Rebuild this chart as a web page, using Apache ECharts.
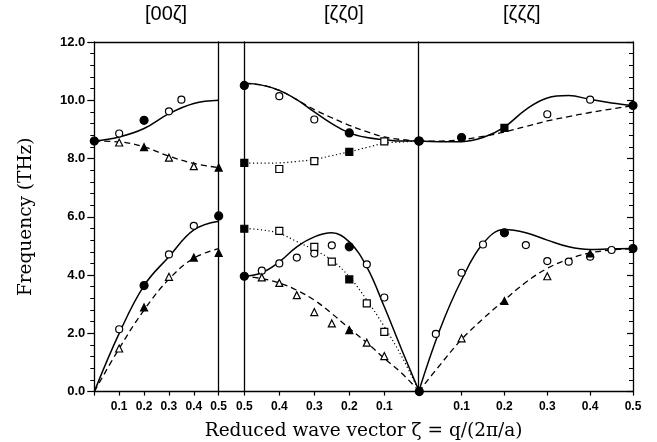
<!DOCTYPE html>
<html>
<head>
<meta charset="utf-8">
<script src="https://cdn.jsdelivr.net/npm/echarts@6/dist/echarts.min.js"></script>
<style>
  html, body { margin: 0; padding: 0; background: #fff; }
  #main { width: 657px; height: 442px; }
</style>
</head>
<body>
<div id="main"></div>
<script>
// reduced wave vector samples
const zetaA = [0, 0.1, 0.2, 0.3, 0.4, 0.5];
const zetaB = [0, 0.05, 0.1, 0.15, 0.2, 0.25, 0.3, 0.35, 0.4, 0.45, 0.5];
const yTicks = [0, 2, 4, 6, 8, 10, 12];

// [00ζ] curves (zetaA)
const p1TopSolid = [8.6, 8.74, 9.03, 9.54, 9.89, 10.0];
const p1TopDash  = [8.6, 8.57, 8.4, 8.08, 7.83, 7.69];
const p1LowSolid = [0, 2.0, 3.64, 4.63, 5.55, 5.85];
const p1LowDash  = [0, 1.48, 2.8, 3.86, 4.58, 4.91];
// [00ζ] measured points
const p1OpenCircle   = [[0.1, 8.86], [0.3, 9.62], [0.35, 10.02], [0.1, 2.14], [0.3, 4.71], [0.4, 5.69]];
const p1FilledCircle = [[0, 8.6], [0.2, 9.31], [0.2, 3.64], [0.5, 6.03]];
const p1OpenTri      = [[0.1, 8.55], [0.3, 8.03], [0.4, 7.74], [0.1, 1.48], [0.3, 3.94]];
const p1FilledTri    = [[0.2, 8.39], [0.5, 7.69], [0.2, 2.89], [0.4, 4.6], [0.5, 4.76]];

// [ζζ0] curves (zetaB)
const p2TopSolid = [8.6, 8.6, 8.65, 8.72, 8.88, 9.2, 9.6, 10.02, 10.34, 10.52, 10.58];
const p2TopDash  = [8.6, 8.65, 8.74, 8.92, 9.14, 9.4, 9.68, 10.02, 10.34, 10.52, 10.58];
const p2TopDot   = [8.6, 8.57, 8.52, 8.38, 8.23, 8.1, 7.97, 7.9, 7.85, 7.84, 7.85];
const p2LowSolid = [0, 1.43, 2.91, 4.28, 5.14, 5.45, 5.31, 4.97, 4.45, 4.08, 3.96];
const p2LowDot   = [0, 1.2, 2.23, 3.14, 3.94, 4.51, 4.86, 5.15, 5.43, 5.55, 5.6];
const p2LowDash  = [0, 0.63, 1.14, 1.68, 2.17, 2.68, 3.14, 3.48, 3.73, 3.88, 3.96];
// [ζζ0] measured points
const p2OpenCircle   = [[0.4, 10.14], [0.3, 9.34], [0.45, 4.15], [0.4, 4.4], [0.35, 4.6], [0.3, 4.74], [0.25, 5.02], [0.15, 4.37], [0.1, 3.23]];
const p2FilledCircle = [[0.5, 10.51], [0.2, 8.88], [0, 8.6], [0.5, 3.96], [0.2, 4.97], [0, 0]];
const p2OpenSquare   = [[0.4, 7.64], [0.3, 7.91], [0.1, 8.59], [0.4, 5.52], [0.3, 4.97], [0.25, 4.46], [0.15, 3.03], [0.1, 2.05]];
const p2FilledSquare = [[0.5, 7.85], [0.2, 8.23], [0.5, 5.59], [0.2, 3.85]];
const p2OpenTri      = [[0.45, 3.92], [0.4, 3.73], [0.35, 3.31], [0.3, 2.73], [0.25, 2.34], [0.15, 1.68], [0.1, 1.22]];
const p2FilledTri    = [[0.2, 2.11]];

// [ζζζ] curves (zetaB)
const p3TopSolid = [8.6, 8.58, 8.58, 8.72, 9.08, 9.68, 10.08, 10.16, 10.03, 9.91, 9.82];
const p3TopDash  = [8.6, 8.6, 8.65, 8.76, 8.91, 9.1, 9.29, 9.44, 9.58, 9.7, 9.82];
const p3LowSolid = [0, 2.15, 3.83, 5.08, 5.56, 5.45, 5.2, 4.97, 4.88, 4.9, 4.91];
const p3LowDash  = [0, 0.92, 1.79, 2.5, 3.14, 3.75, 4.23, 4.55, 4.76, 4.86, 4.91];
// [ζζζ] measured points
const p3OpenCircle   = [[0.04, 1.98], [0.1, 4.08], [0.15, 5.05], [0.25, 5.03], [0.3, 4.48], [0.35, 4.46], [0.4, 4.63], [0.45, 4.86], [0.4, 10.02], [0.3, 9.52]];
const p3FilledCircle = [[0, 8.6], [0.1, 8.72], [0.5, 9.82], [0.2, 5.45], [0.5, 4.91]];
const p3FilledSquare = [[0.2, 9.05]];
const p3OpenTri      = [[0.1, 1.83], [0.3, 3.96]];
const p3FilledTri    = [[0.2, 3.11], [0.4, 4.74]];

const panelTitles = ['[00ζ]', '[ζζ0]', '[ζζζ]'];

const zip = (xs, ys) => xs.map((x, i) => [x, ys[i]]);

const solidLine = { color: '#000', width: 1.5, type: 'solid' };
const dashLine  = { color: '#000', width: 1.3, type: [6, 4] };
const dotLine   = { color: '#000', width: 1.2, type: [1.2, 2.6] };

function curve(xi, yi, xs, ys, style) {
    return {
        type: 'line', xAxisIndex: xi, yAxisIndex: yi,
        data: zip(xs, ys), smooth: 0.4, showSymbol: false,
        lineStyle: style, z: 2, silent: true
    };
}
function points(xi, yi, data, symbol, filled, size) {
    return {
        type: 'scatter', xAxisIndex: xi, yAxisIndex: yi,
        data: data, symbol: symbol, symbolSize: size || 7,
        itemStyle: {
            color: filled ? '#000' : '#fff',
            borderColor: '#000', borderWidth: 1.2, opacity: 1
        },
        z: 5, silent: true
    };
}

const labelFont = { fontFamily: 'Liberation Sans', fontWeight: 'bold', color: '#000' };
const frame = { show: true, onZero: false, lineStyle: { color: '#000', width: 1.3 } };

function panelX(gi, inverse) {
    return {
        type: 'value', gridIndex: gi, min: 0, max: 0.5, interval: 0.1, inverse: inverse,
        axisLine: { show: false, onZero: false },
        axisTick: { show: true, inside: false, length: 4, lineStyle: { color: '#000', width: 1.2 } },
        axisLabel: Object.assign({
            fontSize: 12, margin: 9, showMaxLabel: true, showMinLabel: true,
            formatter: v => (v === 0 ? '' : v.toFixed(1))
        }, labelFont),
        splitLine: { show: false }
    };
}
function panelY(gi, pos) {
    return {
        type: 'value', gridIndex: gi, min: 0, max: 12, interval: 2, position: pos,
        axisLine: frame,
        axisTick: { show: false }, axisLabel: { show: false }, splitLine: { show: false }
    };
}

const gridBox = (left, width) => ({
    left: left, top: 42, width: width, height: 349.6,
    containLabel: false, outerBoundsMode: 'none'
});

const chart = echarts.init(document.getElementById('main'));
chart.setOption({
    animation: false,
    backgroundColor: '#fff',
    graphic: panelTitles.map((t, i) => ({
        type: 'text', left: [145, 324, 503][i], top: 4,
        style: { text: t, fontFamily: 'Liberation Sans', fontSize: 20, fill: '#000' }
    })),
    grid: [
        gridBox(94.3, 538.7),
        gridBox(94.3, 124.4),
        gridBox(244.3, 175),
        gridBox(418.7, 214.3)
    ],
    xAxis: [
        {
            type: 'value', gridIndex: 0, min: 0, max: 1, position: 'bottom',
            axisLine: frame,
            axisTick: { show: false }, axisLabel: { show: false }, splitLine: { show: false },
            name: 'Reduced wave vector ζ = q/(2π/a)', nameLocation: 'middle', nameGap: 30,
            nameTextStyle: { fontFamily: 'DejaVu Serif', fontSize: 18.5, color: '#000' }
        },
        {
            type: 'value', gridIndex: 0, min: 0, max: 1, position: 'top',
            axisLine: frame,
            axisTick: { show: false }, axisLabel: { show: false }, splitLine: { show: false }
        },
        panelX(1, false),
        panelX(2, true),
        panelX(3, false)
    ],
    yAxis: [
        {
            type: 'value', gridIndex: 0, min: 0, max: 12, interval: 2, position: 'left',
            data: yTicks,
            axisLine: frame,
            axisTick: { show: true, length: 7, lineStyle: { color: '#000', width: 1.2 } },
            minorTick: { show: true, splitNumber: 5, length: 4, lineStyle: { color: '#000', width: 1 } },
            axisLabel: Object.assign({ fontSize: 13, margin: 9, formatter: v => v.toFixed(1) }, labelFont),
            splitLine: { show: false },
            name: 'Frequency (THz)', nameLocation: 'middle', nameGap: 59,
            nameTextStyle: { fontFamily: 'DejaVu Serif', fontSize: 18.5, color: '#000' }
        },
        {
            type: 'value', gridIndex: 0, min: 0, max: 12, interval: 2, position: 'right',
            axisLine: frame,
            axisTick: { show: true, inside: true, length: 6, lineStyle: { color: '#000', width: 1.2 } },
            minorTick: { show: true, splitNumber: 5, length: 4, lineStyle: { color: '#000', width: 1 } },
            axisLabel: { show: false }, splitLine: { show: false }
        },
        panelY(1, 'right'),
        panelY(2, 'left'),
        panelY(3, 'left')
    ],
    series: [
        // [00ζ]
        curve(2, 2, zetaA, p1TopSolid, solidLine),
        curve(2, 2, zetaA, p1TopDash, dashLine),
        curve(2, 2, zetaA, p1LowSolid, solidLine),
        curve(2, 2, zetaA, p1LowDash, dashLine),
        points(2, 2, p1OpenCircle, 'circle', false),
        points(2, 2, p1FilledCircle, 'circle', true, 8),
        points(2, 2, p1OpenTri, 'triangle', false),
        points(2, 2, p1FilledTri, 'triangle', true),
        // [ζζ0]
        curve(3, 3, zetaB, p2TopDash, dashLine),
        curve(3, 3, zetaB, p2TopSolid, solidLine),
        curve(3, 3, zetaB, p2TopDot, dotLine),
        curve(3, 3, zetaB, p2LowSolid, solidLine),
        curve(3, 3, zetaB, p2LowDot, dotLine),
        curve(3, 3, zetaB, p2LowDash, dashLine),
        points(3, 3, p2OpenCircle, 'circle', false),
        points(3, 3, p2FilledCircle, 'circle', true, 8),
        points(3, 3, p2OpenSquare, 'rect', false),
        points(3, 3, p2FilledSquare, 'rect', true),
        points(3, 3, p2OpenTri, 'triangle', false),
        points(3, 3, p2FilledTri, 'triangle', true),
        // [ζζζ]
        curve(4, 4, zetaB, p3TopSolid, solidLine),
        curve(4, 4, zetaB, p3TopDash, dashLine),
        curve(4, 4, zetaB, p3LowSolid, solidLine),
        curve(4, 4, zetaB, p3LowDash, dashLine),
        points(4, 4, p3OpenCircle, 'circle', false),
        points(4, 4, p3FilledCircle, 'circle', true, 8),
        points(4, 4, p3FilledSquare, 'rect', true),
        points(4, 4, p3OpenTri, 'triangle', false),
        points(4, 4, p3FilledTri, 'triangle', true)
    ]
});
</script>
</body>
</html>
